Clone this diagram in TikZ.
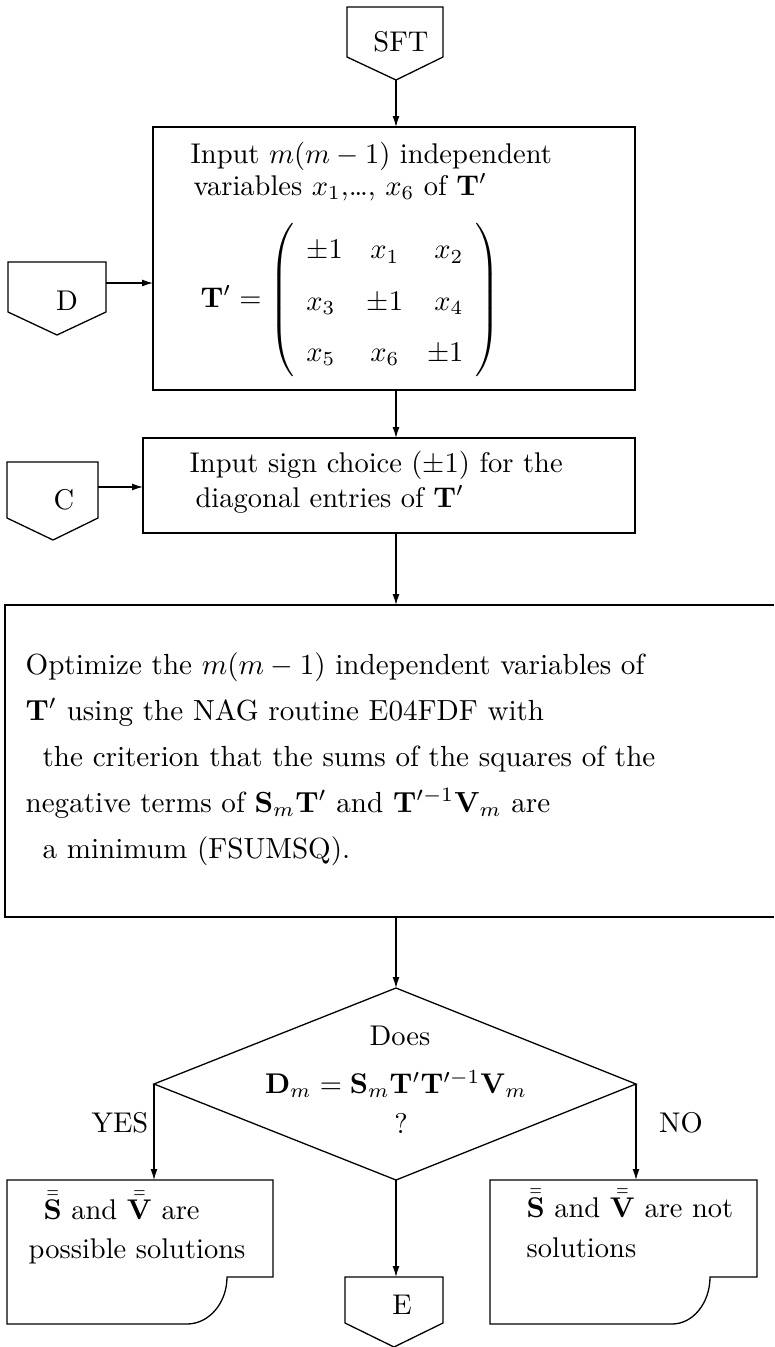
\documentclass[tikz,border=0pt]{standalone}
\usepackage{graphicx}
\usetikzlibrary{arrows.meta}
\newcommand{\sx}[1]{\scalebox{2.85}{#1}}
\newcommand{\sxb}[1]{\scalebox{2.91}{#1}}
\begin{document}
\begin{tikzpicture}[x=1pt,y=-1pt,
  line width=1.3pt,
  txt/.style={font=\fontsize{10}{12}\selectfont, inner sep=0pt},
  lft/.style={txt, anchor=base west},
  arr/.style={-{Latex[length=11pt,width=7pt]}},
  shapeline/.style={line width=1.3pt, line join=miter},
]
\useasboundingbox (0,0) rectangle (774,1347);

% ---------- SFT connector ----------
\draw[shapeline] (347,7) -- (443,7) -- (443,57) -- (396,80) -- (347,57) -- cycle;
\coordinate (sft) at (396,80);
\node[txt] (sftT) at (401,42) {\sx{SFT}};

% ---------- Box 1 ----------
\draw[shapeline] (153,127) rectangle (635,390);
\coordinate (b1n) at (396,127);
\coordinate (b1s) at (396,390);
\coordinate (b1w) at (153,283);
\node[lft] (t1a) at (190,163) {\sx{Input $m(m-1)$ independent}};
\node[lft] (t1b) at (193,195) {\sx{variables $x_1$,\ldots, $x_6$ of $\mathbf{T}'$}};
\node[txt, anchor=west] (mat) at (200,300) {\sx{$\delimiterfactor=1000\delimitershortfall=0pt
\mathbf{T}' = \arraycolsep=4.2pt\def\arraystretch{1.5}\left(\begin{array}{lcr}
\pm1 & x_1 & x_2\\
x_3 & \pm1 & x_4\\
x_5 & x_6 & \pm1
\end{array}\right)$}};

% ---------- D connector ----------
\draw[shapeline] (8,262) -- (106,262) -- (106,312) -- (57,335) -- (8,312) -- cycle;
\coordinate (dR) at (106,283);
\node[txt] (dT) at (67,301) {\sx{D}};

% ---------- Box 2 ----------
\draw[shapeline] (143,438) rectangle (635,533);
\coordinate (b2n) at (396,438);
\coordinate (b2s) at (396,533);
\coordinate (b2w) at (143,487);
\node[lft] (t2a) at (189,472) {\sx{Input sign choice ($\pm1$) for the}};
\node[lft] (t2b) at (195,507) {\sx{diagonal entries of $\mathbf{T}'$}};

% ---------- C connector ----------
\draw[shapeline] (7,462) -- (98,462) -- (98,518) -- (53,540) -- (7,518) -- cycle;
\coordinate (cR) at (98,487);
\node[txt] (cT) at (64,500) {\sx{C}};

% ---------- Box 3 ----------
\draw[shapeline] (774,605) -- (5,605) -- (5,917) -- (774,917);
\coordinate (b3n) at (396,605);
\coordinate (b3s) at (396,917);
\node[lft] (t3a) at (25,674) {\sxb{Optimize the $m(m-1)$ independent variables of}};
\node[lft] (t3b) at (25,720) {\sxb{$\mathbf{T}'$ using the NAG routine E04FDF with}};
\node[lft] (t3c) at (42,766) {\sxb{the criterion that the sums of the squares of the}};
\node[lft] (t3d) at (25,812) {\sxb{negative terms of $\mathbf{S}_m\mathbf{T}'$ and $\mathbf{T}'^{-1}\mathbf{V}_m$ are}};
\node[lft] (t3e) at (42,858) {\sxb{a minimum (FSUMSQ).}};

% ---------- Decision ----------
\coordinate (dtop) at (396,988);
\coordinate (dleft) at (154,1084);
\coordinate (dbot) at (396,1180);
\coordinate (dright) at (636,1084);
\draw[shapeline] (dtop) -- (dright) -- (dbot) -- (dleft) -- cycle;
\node[txt, anchor=base] (does) at (400,1045) {\sx{Does}};
\node[txt] (eq) at (396,1084) {\sx{$\mathbf{D}_m = \mathbf{S}_m\mathbf{T}'\mathbf{T}'^{-1}\mathbf{V}_m$}};
\node[txt] (q) at (401,1123) {\sx{?}};
\node[txt] (yes) at (120,1123) {\sx{YES}};
\node[txt] (no) at (681,1123) {\sx{NO}};

% ---------- Result documents ----------
\draw[shapeline] (7,1180) -- (273,1180) -- (273,1277) -- (227,1277)
  .. controls (227,1303) and (209,1324) .. (187,1324) -- (7,1324) -- cycle;
\coordinate (lbn) at (154,1180);
\node[lft] (l1) at (43,1219) {\sx{$\bar{\bar{\mathbf{S}}}$ and $\bar{\bar{\mathbf{V}}}$ are}};
\node[lft] (l2) at (28,1258) {\sx{possible solutions}};

\draw[shapeline] (490,1180) -- (757,1180) -- (757,1277) -- (710,1277)
  .. controls (710,1303) and (693,1324) .. (672,1324) -- (490,1324) -- cycle;
\coordinate (rbn) at (636,1180);
\node[lft] (r1) at (526,1217) {\sx{$\bar{\bar{\mathbf{S}}}$ and $\bar{\bar{\mathbf{V}}}$ are not}};
\node[lft] (r2) at (526,1257) {\sx{solutions}};

% ---------- E connector ----------
\draw[shapeline] (345,1277) -- (443,1277) -- (443,1323) -- (394,1347) -- (345,1323) -- cycle;
\coordinate (eN) at (396,1277);
\node[txt] (eT) at (402,1305) {\sx{E}};

% ---------- Connectors ----------
\draw[arr] (sft) -- (b1n);
\draw[arr] (dR) -- (b1w);
\draw[arr] (b1s) -- (b2n);
\draw[arr] (cR) -- (b2w);
\draw[arr] (b2s) -- (b3n);
\draw[arr] (b3s) -- (dtop);
\draw[arr] (dleft) -- (lbn);
\draw[arr] (dright) -- (rbn);
\draw[arr] (dbot) -- (eN);
\end{tikzpicture}
\end{document}
